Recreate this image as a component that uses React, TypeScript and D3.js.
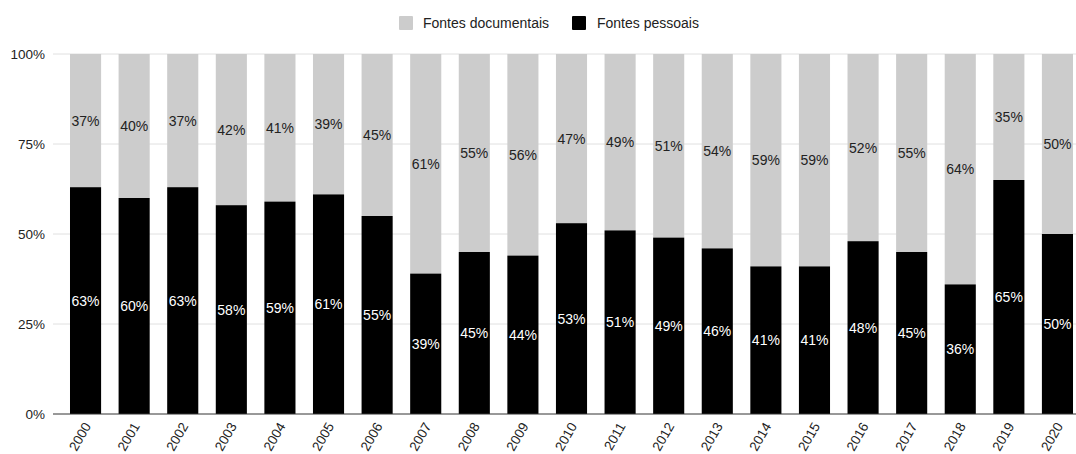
import React from "react";
import * as d3 from "d3";

const years = [
  "2000", "2001", "2002", "2003", "2004", "2005", "2006", "2007", "2008", "2009", "2010",
  "2011", "2012", "2013", "2014", "2015", "2016", "2017", "2018", "2019", "2020",
];
const pessoais = [63, 60, 63, 58, 59, 61, 55, 39, 45, 44, 53, 51, 49, 46, 41, 41, 48, 45, 36, 65, 50];
const documentais = [37, 40, 37, 42, 41, 39, 45, 61, 55, 56, 47, 49, 51, 54, 59, 59, 52, 55, 64, 35, 50];
const yTicks = [0, 25, 50, 75, 100];
const seriesNames = ["Fontes documentais", "Fontes pessoais"];

const W = 1076;
const H = 454;
const FONT = "'Liberation Sans', Arial, sans-serif";
const GRAY = "#cccccc";
const BLACK = "#000000";

export default function App() {
  const plotLeft = 53;
  const y = d3.scaleLinear().domain([0, 100]).range([414, 54]);
  const x = d3
    .scaleBand<string>()
    .domain(years)
    .range([61.25, 1081.75])
    .paddingInner(0.36)
    .paddingOuter(0.18);
  const bw = x.bandwidth();

  return (
    <svg
      width={W}
      height={H}
      style={{ position: "absolute", left: 0, top: 0, background: "#fff" }}
      fontFamily={FONT}
    >
      {/* legend */}
      <g fontSize={14} fill="#222">
        <rect x={399} y={16} width={14} height={14} fill={GRAY} rx={1} />
        <text x={423} y={28}>{seriesNames[0]}</text>
        <rect x={572} y={16} width={14} height={14} fill={BLACK} rx={1} />
        <text x={597} y={28}>{seriesNames[1]}</text>
      </g>

      {/* gridlines and y labels */}
      {yTicks.map((t) => (
        <g key={t}>
          {t !== 0 && (
            <line x1={plotLeft} x2={W} y1={y(t)} y2={y(t)} stroke="#e0e0e0" strokeWidth={1} />
          )}
          <text x={45} y={y(t) + 4.5} textAnchor="end" fontSize={13.5} fill="#222">
            {t}%
          </text>
        </g>
      ))}

      {/* stacked bars */}
      {years.map((yr, i) => {
        const x0 = x(yr)!;
        const p = pessoais[i];
        const d = documentais[i];
        const cx = x0 + bw / 2;
        return (
          <g key={yr}>
            <rect x={x0} y={y(p + d)} width={bw} height={y(p) - y(p + d)} fill={GRAY} />
            <rect x={x0} y={y(p)} width={bw} height={y(0) - y(p)} fill={BLACK} />
            <text x={cx} y={y(p + d / 2) + 5} textAnchor="middle" fontSize={14} fill="#222">
              {d}%
            </text>
            <text x={cx} y={y(p / 2) + 5} textAnchor="middle" fontSize={14} fill="#fff">
              {p}%
            </text>
          </g>
        );
      })}

      {/* baseline */}
      <line x1={plotLeft} x2={W} y1={y(0)} y2={y(0)} stroke="#333" strokeWidth={1} />

      {/* x labels */}
      {years.map((yr) => {
        const cx = x(yr)! + bw / 2 + 6;
        const ty = 426;
        return (
          <text
            key={yr}
            x={cx}
            y={ty}
            textAnchor="end"
            fontSize={13.5}
            fill="#222"
            transform={`rotate(-60, ${cx}, ${ty})`}
          >
            {yr}
          </text>
        );
      })}
    </svg>
  );
}
